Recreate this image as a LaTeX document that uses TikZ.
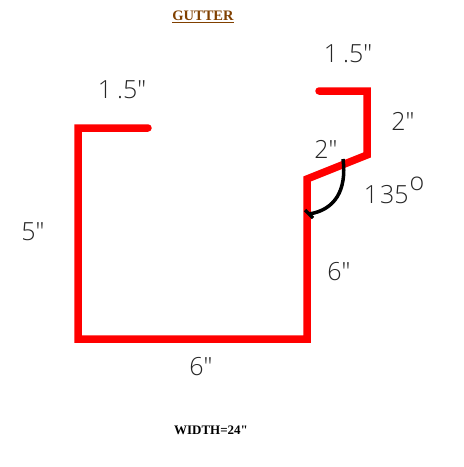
\documentclass[tikz,border=0pt]{standalone}
\usepackage{fontspec}
\setmainfont{Liberation Serif}
\newfontfamily\handfont{Open Sans Light}
\definecolor{gutterred}{RGB}{255,0,0}
\definecolor{titlebrown}{RGB}{128,64,0}
\tikzset{
  profile/.style={draw=gutterred,line width=7.5pt,line join=miter,line cap=round},
  anglearc/.style={draw=black,line width=3.5pt},
  dimlabel/.style={font=\handfont\fontsize{25}{25}\selectfont,text=black!85,inner sep=0pt,anchor=center},
  caption/.style={font=\bfseries\fontsize{13}{13}\selectfont,inner sep=0pt}
}
\begin{document}
\begin{tikzpicture}[x=1pt,y=-1pt]
\useasboundingbox (0,0) rectangle (464,467);
\fill[white] (0,0) rectangle (464,467);
\coordinate (a) at (148,128);
\coordinate (b) at (78,128);
\coordinate (c) at (78,339);
\coordinate (d) at (307,339);
\coordinate (e) at (307,179);
\coordinate (f) at (367,155);
\coordinate (g) at (367,91);
\coordinate (h) at (319,91);
\draw[profile] (a) -- (b) -- (c) -- (d) -- (e) -- (f) -- (g) -- (h);
\coordinate (arcstart) at (343,159);
\coordinate (arcend) at (309,214);
\coordinate (ticka) at (305,210);
\coordinate (tickb) at (313,218);
\draw[anglearc] (arcstart) .. controls (347,190) and (335,210) .. (arcend);
\draw[anglearc] (ticka) -- (tickb);
\node[caption,text=titlebrown,font=\bfseries\fontsize{14.5}{14.5}\selectfont] (title) at (203,17) {\underline{GUTTER}};
\node[caption,text=black] (width) at (211,430) {WIDTH=24\textquotedbl};
\node[dimlabel] (l1) at (122,90) {1\hspace{5pt}.5"};
\node[dimlabel] (l2) at (348,54) {1\hspace{5pt}.5"};
\node[dimlabel] (l3) at (403,121) {2"};
\node[dimlabel] (l4) at (326,149) {2"};
\node[dimlabel] (l5) at (394,190) {1\hspace{2pt}35\hspace{1pt}\raisebox{13pt}{\fontsize{25}{25}\selectfont o}};
\node[dimlabel] (l6) at (33,232) {5"};
\node[dimlabel] (l7) at (339,272) {6"};
\node[dimlabel] (l8) at (201,367) {6"};
\end{tikzpicture}
\end{document}
